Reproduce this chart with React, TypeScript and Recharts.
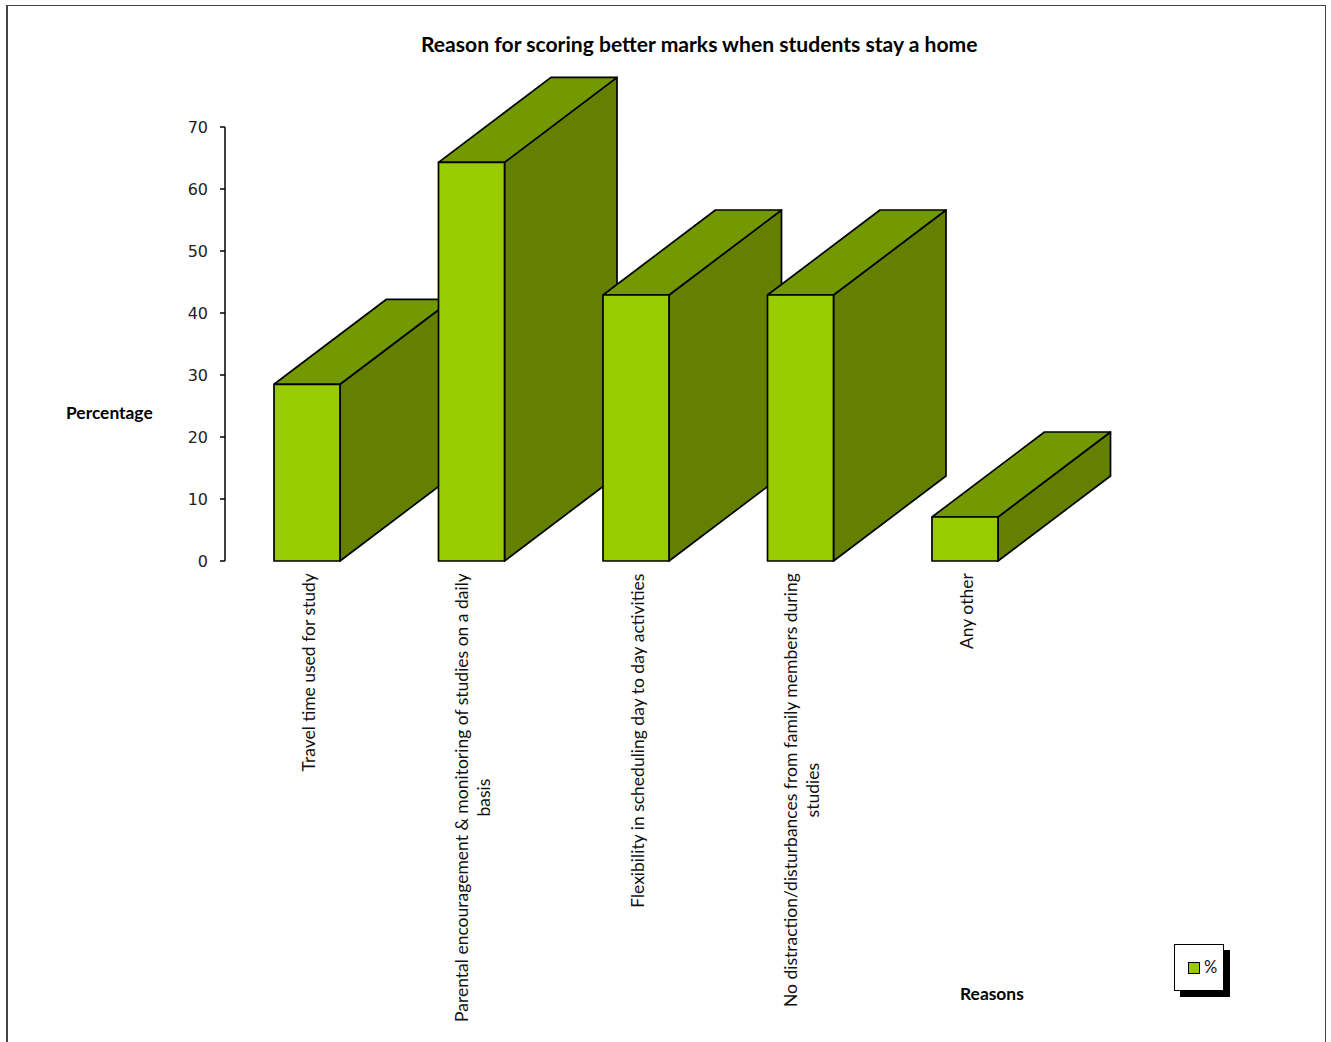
import React from "react";
import { BarChart, Bar, XAxis, YAxis, Legend } from "recharts";

const categories = [
  "Travel time used for study",
  "Parental encouragement & monitoring of studies on a daily\nbasis",
  "Flexibility in scheduling day to day activities",
  "No distraction/disturbances from family members during\nstudies",
  "Any other",
];
const percentages = [28.5, 64.3, 42.9, 42.9, 7.1];
const yTicks = [0, 10, 20, 30, 40, 50, 60, 70];

const chartData = categories.map((name, i) => ({ name, value: percentages[i] }));

const LABEL_SIZE = 17.5;
const LABEL_FONT = `${LABEL_SIZE}px Lato`;
const DEPTH_X = 112.5;
const DEPTH_Y = 85;

const measure = (text: string) => {
  const ctx = document.createElement("canvas").getContext("2d")!;
  ctx.font = LABEL_FONT;
  return ctx.measureText(text).width;
};

// Front, side and top faces of one extruded column
const Column3D = ({ x, y, width, height }: any) => {
  const right = x + width;
  const bottom = y + height;
  const edge = { stroke: "#000", strokeWidth: 1.7, strokeLinejoin: "round" as const };
  return (
    <g>
      <polygon
        points={`${right},${y} ${right + DEPTH_X},${y - DEPTH_Y} ${right + DEPTH_X},${bottom - DEPTH_Y} ${right},${bottom}`}
        fill="#638000"
        {...edge}
      />
      <polygon
        points={`${x},${y} ${x + DEPTH_X},${y - DEPTH_Y} ${right + DEPTH_X},${y - DEPTH_Y} ${right},${y}`}
        fill="#739900"
        {...edge}
      />
      <rect x={x} y={y} width={width} height={height} fill="#99CC00" {...edge} />
    </g>
  );
};

// Vertical category label, wrapped lines are centred on the longest one
const CategoryTick = ({ x, y, payload }: any) => {
  const lines: string[] = String(payload.value).split("\n");
  const longest = Math.max(...lines.map(measure));
  const lineGap = 22;
  const startX = x + 7.5 - ((lines.length - 1) * lineGap) / 2;
  return (
    <g>
      {lines.map((line, i) => (
        <text
          key={i}
          transform={`translate(${startX + i * lineGap},${y + 4 + longest / 2}) rotate(-90)`}
          textAnchor="middle"
          fontFamily="Lato"
          fontSize={LABEL_SIZE}
          fill="#111"
        >
          {line}
        </text>
      ))}
    </g>
  );
};

const ValueTick = ({ x, y, payload }: any) => (
  <text x={x} y={y + 6} textAnchor="end" fontFamily="DejaVu Sans" fontSize={16} fill="#222">
    {payload.value}
  </text>
);

const LegendBox = ({ payload }: any) => (
  <div
    style={{
      boxSizing: "border-box",
      width: 50,
      height: 47,
      background: "#fff",
      border: "1px solid #000",
      boxShadow: "6px 6px 0 #000",
      position: "relative",
    }}
  >
    {payload.map((entry: any) => (
      <React.Fragment key={entry.value}>
        <span
          style={{
            position: "absolute",
            left: 13,
            top: 17,
            width: 12,
            height: 12,
            boxSizing: "border-box",
            background: entry.color,
            border: "1.5px solid #000",
          }}
        />
        <span style={{ position: "absolute", left: 29, top: 12, fontFamily: "Lato", fontSize: 16.5, color: "#111" }}>
          {entry.value}
        </span>
      </React.Fragment>
    ))}
  </div>
);

const boldText = (left: number, top: number): React.CSSProperties => ({
  position: "absolute",
  left,
  top,
  fontFamily: "Lato",
  fontWeight: 700,
  color: "#000",
  whiteSpace: "nowrap",
});

const App = () => (
  <div style={{ position: "absolute", left: 0, top: 0, width: 1331, height: 1042, overflow: "hidden", background: "#fff" }}>
    <div
      style={{
        position: "absolute",
        left: 6,
        top: 5,
        width: 1320,
        height: 1037,
        boxSizing: "border-box",
        borderLeft: "2px solid #444",
        borderTop: "1.5px solid #444",
        borderRight: "1.5px solid #444",
      }}
    />
    <BarChart
      width={1331}
      height={1042}
      data={chartData}
      margin={{ top: 127, right: 283.5, bottom: 0, left: 165 }}
      barSize={66}
      style={{ position: "absolute", left: 0, top: 0 }}
    >
      <XAxis dataKey="name" height={481} interval={0} axisLine={false} tickLine={false} tick={<CategoryTick />} />
      <YAxis
        width={60}
        domain={[0, 70]}
        ticks={yTicks}
        axisLine={{ stroke: "#000", strokeWidth: 1.5 }}
        tickLine={{ stroke: "#000", strokeWidth: 1.5 }}
        tickSize={5}
        tickMargin={12}
        tick={<ValueTick />}
      />
      <Legend
        layout="horizontal"
        align="center"
        verticalAlign="middle"
        wrapperStyle={{ left: 1174, top: 944, width: 50, height: 47 }}
        content={<LegendBox />}
      />
      <Bar dataKey="value" name="%" fill="#99CC00" shape={<Column3D />} isAnimationActive={false} />
    </BarChart>
    <div style={{ ...boldText(421, 31), fontSize: 21.1 }}>Reason for scoring better marks when students stay a home</div>
    <div style={{ ...boldText(66, 402), fontSize: 17.4 }}>Percentage</div>
    <div style={{ ...boldText(960, 983), fontSize: 17.4 }}>Reasons</div>
  </div>
);

export default App;
